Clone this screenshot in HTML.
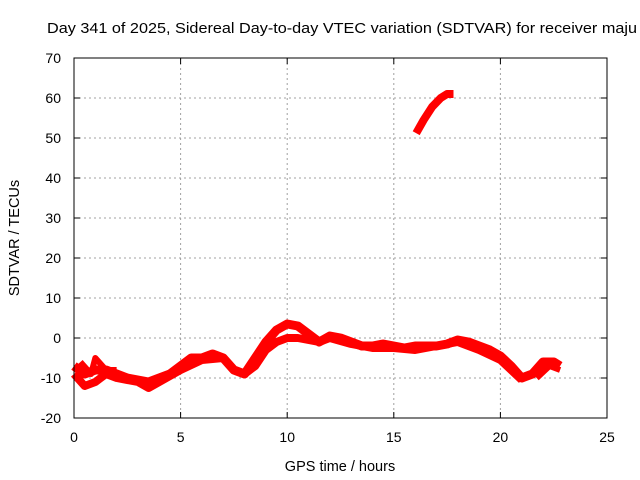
<!DOCTYPE html>
<html><head><meta charset="utf-8"><style>
body{margin:0;background:#fff}
svg{display:block;font-family:"Liberation Sans",sans-serif}
</style></head><body>
<svg id="c" width="640" height="480">
<text x="47" y="33" font-size="14.5" textLength="590" lengthAdjust="spacingAndGlyphs">Day 341 of 2025, Sidereal Day-to-day VTEC variation (SDTVAR) for receiver maju</text>
<text x="340" y="471" text-anchor="middle" font-size="14.5">GPS time / hours</text>
<text transform="translate(19,238) rotate(-90)" text-anchor="middle" font-size="14.5">SDTVAR / TECUs</text>
<g id="grid"></g><g id="marks"></g>
<rect x="74" y="58" width="533" height="360" fill="none" stroke="#000"/>
</svg>
<script>
const xTicks=[0,5,10,15,20,25];
const yTicks=[-20,-10,0,10,20,30,40,50,60,70];
const trackA=[[0,-7],[0.5,-9],[1,-8],[1.5,-8],[2,-9],[2.5,-10],[3,-10.5],[3.5,-11],[4,-10],[4.5,-9],[5,-7],[5.5,-5],[6,-5],[6.5,-4],[7,-5],[7.5,-8],[8,-9],[8.5,-5],[9,-1],[9.5,2],[10,3.5],[10.5,3],[11,1],[11.5,-1],[12,0.5],[12.5,0],[13,-1],[13.5,-2],[14,-2],[14.5,-1.5],[15,-2],[15.5,-2.5],[16,-2],[16.5,-2],[17,-2],[17.5,-1.5],[18,-0.5],[18.5,-1],[19,-2],[19.5,-3],[20,-4.5],[20.5,-7],[21,-10],[21.5,-9],[22,-6],[22.5,-6],[22.8,-7]];
const trackB=[[0,-9],[0.5,-12],[1,-11],[1.5,-9],[2,-10],[3,-11],[3.5,-12.5],[4,-11],[5,-8],[6,-5.5],[7,-5],[7.5,-8],[8,-9],[8.5,-7],[9,-3],[9.5,-1],[10,0],[10.5,0],[11,-0.5],[11.5,-1],[12,0],[13,-1.5],[14,-2.5],[15,-2.5],[16,-3],[17,-2],[18,-1],[19,-3],[20,-5.5],[20.5,-8],[21,-10.5]];
const trackC=[[0.3,-6],[0.8,-9],[1,-5],[1.5,-8],[2,-8]];
const trackD=[[21.7,-10],[22.3,-7],[22.8,-8]];
const trackTop=[[16.05,51.2],[16.4,54.5],[16.8,57.8],[17.2,60],[17.5,61],[17.8,61]];
const X=v=>74+v*533/25, Y=v=>418-(v+20)*4;
const NS='http://www.w3.org/2000/svg';
const svg=document.getElementById('c'),grid=document.getElementById('grid'),marks=document.getElementById('marks');
function mk(t,a,p){const e=document.createElementNS(NS,t);for(const k in a)e.setAttribute(k,a[k]);(p||svg).appendChild(e);return e;}
xTicks.forEach(t=>{const x=X(t);
 if(t>0&&t<25){const l=mk('line',{x1:x,x2:x,y1:58,y2:418,stroke:'#a0a0a0','stroke-dasharray':'2,3'},grid);
 
 }
 mk('line',{x1:x,x2:x,y1:418,y2:412,stroke:'#000'},grid);mk('line',{x1:x,x2:x,y1:58,y2:64,stroke:'#000'},grid);
 const s=mk('text',{x:x,y:442,'text-anchor':'middle','font-size':'14'});s.textContent=t;
 
 });
yTicks.forEach(t=>{const y=Y(t);
 if(t>-20&&t<70){const l=mk('line',{x1:74,x2:607,y1:y,y2:y,stroke:'#a0a0a0','stroke-dasharray':'2,3'},grid);
 
 }
 mk('line',{x1:74,x2:80,y1:y,y2:y,stroke:'#000'},grid);mk('line',{x1:607,x2:601,y1:y,y2:y,stroke:'#000'},grid);
 const s=mk('text',{x:61,y:y+5,'text-anchor':'end','font-size':'14'});s.textContent=t;
 
 });
[[trackA,9],[trackB,8],[trackC,6],[trackD,6],[trackTop,8]].forEach(([tr,w],i)=>{
 const p=mk('polyline',{points:tr.map(d=>X(d[0])+','+Y(d[1])).join(' '),fill:'none',stroke:'#f00','stroke-width':w,'stroke-linejoin':'round'},marks);
 
 });
</script>
</body></html>
